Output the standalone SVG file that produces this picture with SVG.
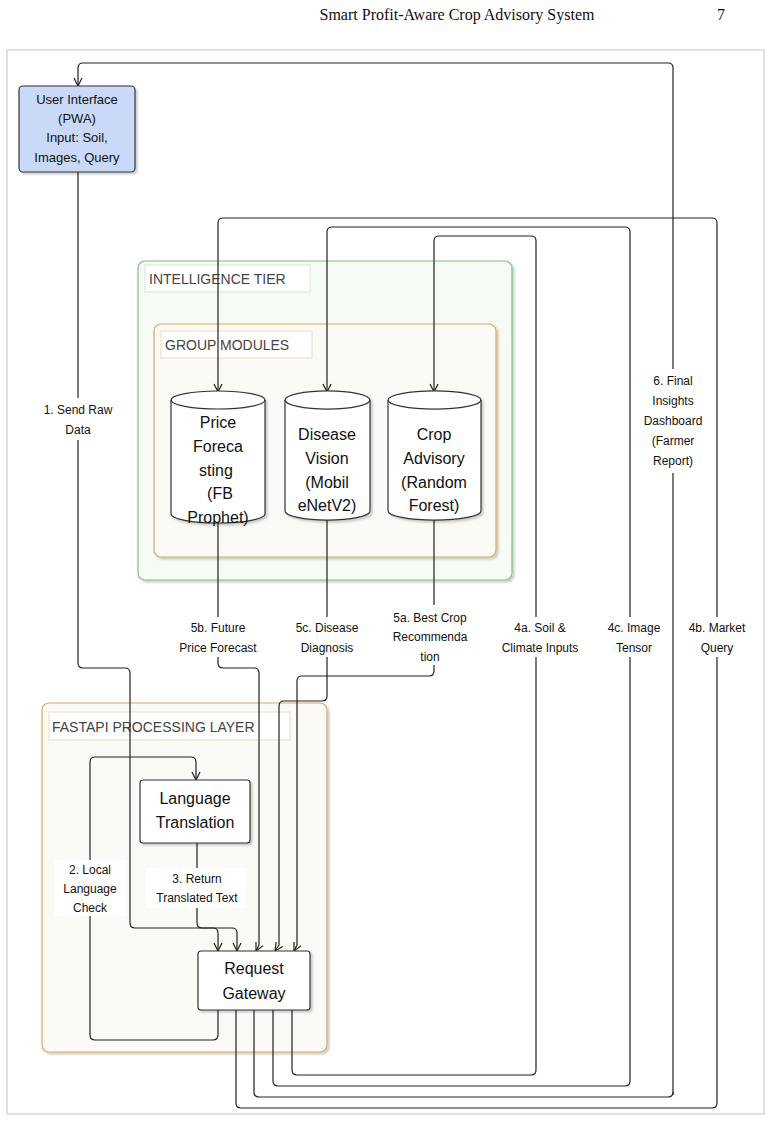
<svg xmlns="http://www.w3.org/2000/svg" width="771" height="1139" viewBox="0 0 771 1139">
<defs>
<marker id="a" viewBox="0 0 10 10" refX="9" refY="5" markerWidth="10" markerHeight="10" orient="auto" markerUnits="userSpaceOnUse"><path d="M1,1 L9,5 L1,9" fill="none" stroke="#222" stroke-width="1.2"/></marker>
<filter id="s" x="-10%" y="-10%" width="130%" height="130%"><feDropShadow dx="2" dy="2" stdDeviation="1.2" flood-color="#000" flood-opacity="0.2"/></filter>
</defs>
<style>
text{font-family:"Liberation Sans",Arial,sans-serif;font-size:13px;fill:#111;text-anchor:middle}
.c{fill:none;stroke:#222;stroke-width:1.2;stroke-linejoin:round}
.l{font-size:12px}
.b{font-size:16px}
.lb{fill:#fff}
.t{font-size:14px;fill:#444;text-anchor:start}
.n{fill:#fff;stroke:#333;stroke-width:1.2;filter:url(#s)}
.h{font-family:"Liberation Serif",serif;font-size:16px}
</style>
<rect width="771" height="1139" fill="#fff"/>
<text class="h" x="457" y="20">Smart Profit-Aware Crop Advisory System</text>
<text class="h" x="721" y="20">7</text>
<rect x="7" y="50" width="757" height="1064" fill="#fff" stroke="#d8d8d8" stroke-width="1.5"/>
<g id="intelligence-tier">
<rect x="138" y="261" width="374" height="319" rx="7" fill="#f6fbf6" stroke="#7ebf7e" stroke-width="1.2" filter="url(#s)"/>
<rect x="145" y="265" width="165" height="27" fill="#fff" stroke="#cfe8cf"/>
<text class="t" x="149" y="284">INTELLIGENCE TIER</text>
</g>
<g id="group-modules">
<rect x="154" y="324" width="342" height="233" rx="7" fill="#fbfaf6" stroke="#d9a75f" stroke-width="1.2" filter="url(#s)"/>
<rect x="161" y="331" width="151" height="27" fill="#fff" stroke="#f0dcc0"/>
<text class="t" x="165" y="350">GROUP MODULES</text>
</g>
<g id="fastapi-layer">
<rect x="42" y="703" width="285" height="349" rx="7" fill="#fbfaf6" stroke="#d9a75f" stroke-width="1.2" filter="url(#s)"/>
<rect x="49" y="712" width="241" height="28" fill="#fff" stroke="#f0dcc0"/>
<text class="t" x="52" y="732">FASTAPI PROCESSING LAYER</text>
</g>
<g id="connectors">
<path class="c" d="M673,1095 V68 Q673,63 668,63 H83 Q78,63 78,68 V86" marker-end="url(#a)"/>
<path class="c" d="M717,1103 V223 Q717,218 712,218 H223 Q218,218 218,223 V392" marker-end="url(#a)"/>
<path class="c" d="M630,1081 V232 Q630,227 625,227 H332 Q327,227 327,232 V392" marker-end="url(#a)"/>
<path class="c" d="M536,1070 V241 Q536,236 531,236 H439 Q434,236 434,241 V392" marker-end="url(#a)"/>
<path class="c" d="M236,1010 V1103 Q236,1108 241,1108 H712 Q717,1108 717,1103"/>
<path class="c" d="M254,1010 V1092 Q254,1097 259,1097 H668 Q673,1097 673,1092"/>
<path class="c" d="M273,1010 V1081 Q273,1086 278,1086 H625 Q630,1086 630,1081"/>
<path class="c" d="M292,1010 V1070 Q292,1075 297,1075 H531 Q536,1075 536,1070"/>
<path class="c" d="M78,172 V663 Q78,668 83,668 H125 Q130,668 130,673 V923 Q130,928 135,928 H213 Q218,928 218,933 V951" marker-end="url(#a)"/>
<path class="c" d="M218,1010 V1035 Q218,1040 213,1040 H95 Q90,1040 90,1035 V762 Q90,757 95,757 H191 Q196,757 196,762 V780" marker-end="url(#a)"/>
<path class="c" d="M197,843 V923 Q197,928 202,928 H232 Q237,928 237,933 V951" marker-end="url(#a)"/>
<path class="c" d="M218,522 V663 Q218,668 223,668 H254 Q259,668 259,673 V945 L256,951" marker-end="url(#a)"/>
<path class="c" d="M327,520 V696 Q327,701 322,701 H284 Q279,701 279,706 V945 L275,951" marker-end="url(#a)"/>
<path class="c" d="M434,520 V671 Q434,676 429,676 H302 Q297,676 297,681 V945 L294,951" marker-end="url(#a)"/>
</g>
<g id="labels">
<rect class="lb" x="32" y="398" width="90" height="42"/>
<text class="l" x="78" y="414">1. Send Raw</text><text class="l" x="78" y="434">Data</text>
<rect class="lb" x="636" y="369" width="74" height="104"/>
<text class="l" x="673" y="385">6. Final</text><text class="l" x="673" y="405">Insights</text><text class="l" x="673" y="425">Dashboard</text><text class="l" x="673" y="445">(Farmer</text><text class="l" x="673" y="465">Report)</text>
<rect class="lb" x="168" y="617" width="100" height="40"/>
<text class="l" x="218" y="632">5b. Future</text><text class="l" x="218" y="652">Price Forecast</text>
<rect class="lb" x="284" y="617" width="86" height="40"/>
<text class="l" x="327" y="632">5c. Disease</text><text class="l" x="327" y="652">Diagnosis</text>
<rect class="lb" x="384" y="605" width="92" height="60"/>
<text class="l" x="430" y="622">5a. Best Crop</text><text class="l" x="430" y="641">Recommenda</text><text class="l" x="430" y="661">tion</text>
<rect class="lb" x="493" y="617" width="92" height="40"/>
<text class="l" x="540" y="632">4a. Soil &amp;</text><text class="l" x="540" y="652">Climate Inputs</text>
<rect class="lb" x="598" y="617" width="62" height="40"/>
<text class="l" x="634" y="632">4c. Image</text><text class="l" x="634" y="652">Tensor</text>
<rect class="lb" x="684" y="617" width="70" height="40"/>
<text class="l" x="717" y="632">4b. Market</text><text class="l" x="717" y="652">Query</text>
<rect class="lb" x="55" y="860" width="70" height="56"/>
<text class="l" x="90" y="874">2. Local</text><text class="l" x="90" y="893">Language</text><text class="l" x="90" y="912">Check</text>
<rect class="lb" x="146" y="868" width="100" height="40"/>
<text class="l" x="197" y="883">3. Return</text><text class="l" x="197" y="902">Translated Text</text>
</g>
<g id="user-interface">
<rect x="19" y="86" width="116" height="86" rx="4" fill="#c9d9f7" stroke="#333" stroke-width="1.2" filter="url(#s)"/>
<text x="77" y="104">User Interface</text><text x="77" y="123">(PWA)</text><text x="77" y="142">Input: Soil,</text><text x="77" y="162">Images, Query</text>
</g>
<g id="price-forecasting">
<path class="n" d="M171,400 A47,9 0 0 1 265,400 V514 A47,9 0 0 1 171,514 Z"/>
<path d="M171,400 A47,9 0 0 0 265,400" fill="none" stroke="#333" stroke-width="1.2"/>
<text class="b" x="218" y="428">Price</text><text class="b" x="218" y="452">Foreca</text><text class="b" x="216" y="476">sting</text><text class="b" x="220" y="499">(FB</text><text class="b" x="218" y="523">Prophet)</text>
</g>
<g id="disease-vision">
<path class="n" d="M285,400 A42,9 0 0 1 370,400 V511 A42,9 0 0 1 285,511 Z"/>
<path d="M285,400 A42,9 0 0 0 370,400" fill="none" stroke="#333" stroke-width="1.2"/>
<text class="b" x="327" y="440">Disease</text><text class="b" x="327" y="464">Vision</text><text class="b" x="327" y="488">(Mobil</text><text class="b" x="327" y="511">eNetV2)</text>
</g>
<g id="crop-advisory">
<path class="n" d="M388,400 A46,9 0 0 1 481,400 V511 A46,9 0 0 1 388,511 Z"/>
<path d="M388,400 A46,9 0 0 0 481,400" fill="none" stroke="#333" stroke-width="1.2"/>
<text class="b" x="434" y="440">Crop</text><text class="b" x="434" y="464">Advisory</text><text class="b" x="434" y="488">(Random</text><text class="b" x="434" y="511">Forest)</text>
</g>
<g id="language-translation">
<rect class="n" x="140" y="780" width="110" height="63" rx="3"/>
<text class="b" x="195" y="804">Language</text><text class="b" x="195" y="828">Translation</text>
</g>
<g id="request-gateway">
<rect class="n" x="198" y="951" width="112" height="59" rx="3"/>
<text class="b" x="254" y="974">Request</text><text class="b" x="254" y="999">Gateway</text>
</g>
</svg>
